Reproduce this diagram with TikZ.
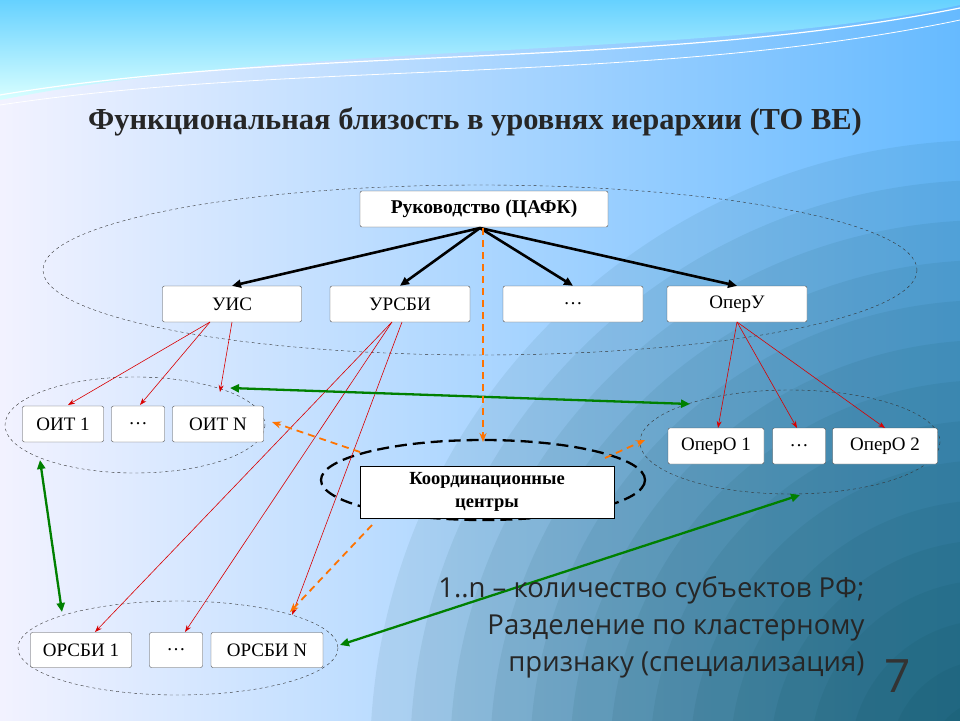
\documentclass[tikz,border=0pt]{standalone}
\usepackage{fontspec}
\setmainfont{Liberation Serif}
\newfontfamily\sansf{Open Sans}
\usetikzlibrary{arrows.meta}
\begin{document}
\begin{tikzpicture}[x=1pt,y=-1pt,
 box/.style={draw=black!70,fill=white,rounded corners=2pt,font=\fontsize{19}{21}\selectfont},
 ell/.style={draw=black!80,dashed,thin},
 blk/.style={-{Triangle[length=9pt,width=8pt]},line width=2.6pt},
 red/.style={-{Stealth[length=7pt,width=5pt]},draw=red!85!black,line width=0.6pt},
 grn/.style={{Triangle[length=9pt,width=8pt]}-{Triangle[length=9pt,width=8pt]},draw=green!50!black,line width=2.3pt},
 org/.style={-{Stealth[length=9pt,width=7pt]},draw=orange!90!red,dashed,line width=1.8pt,dash pattern=on 7pt off 5pt}]
\useasboundingbox (0,0) rectangle (960,720);
\shade[left color=white!95!blue,right color=blue!45!cyan!60!white] (0,0) rectangle (960,720);
\foreach \r in {620,580,...,60} \fill[teal!50!black,opacity=0.07] (990,760) circle (\r);
\shade[top color=cyan!70!blue!60,bottom color=cyan!15] (0,0) -- (960,0) -- (960,5) .. controls (700,60) and (300,40) .. (0,100) -- cycle;
\draw[white,line width=1.2pt] (0,95) .. controls (300,45) and (650,70) .. (960,8);
\draw[white,line width=0.8pt] (0,105) .. controls (300,60) and (650,85) .. (960,20);
\node[font=\bfseries\fontsize{30.5}{32}\selectfont,text=black!85] (title) at (475,122) {Функциональная близость в уровнях иерархии (ТО ВЕ)};
\draw[ell] (480,270) ellipse (437 and 85);
\draw[ell] (135,425) ellipse (130 and 48);
\draw[ell] (790,442) ellipse (150 and 52);
\draw[ell] (178,648) ellipse (160 and 47);
\draw[dashed,line width=2.3pt,dash pattern=on 12pt off 6pt] (483,480) ellipse (162 and 40);
\node[box,font=\bfseries\fontsize{19.5}{21}\selectfont,minimum width=248pt,minimum height=36pt] (top) at (484,209) {Руководство (ЦАФК)};
\node[box,minimum width=139pt,minimum height=36pt] (uis) at (232,304) {УИС};
\node[box,minimum width=140pt,minimum height=36pt] (ursbi) at (400,304) {УРСБИ};
\node[box,minimum width=140pt,minimum height=36pt] (dots1) at (573,304) {…};
\node[box,minimum width=140pt,minimum height=36pt] (operu) at (737,304) {ОперУ};
\node[box,minimum width=81pt,minimum height=36pt] (oit1) at (63,424) {ОИТ 1};
\node[box,minimum width=53pt,minimum height=36pt] (oitd) at (138,424) {…};
\node[box,minimum width=91pt,minimum height=36pt] (oitn) at (218,424) {ОИТ N};
\node[box,minimum width=96pt,minimum height=36pt] (opero1) at (716,446) {ОперО 1};
\node[box,minimum width=53pt,minimum height=36pt] (operod) at (799,446) {…};
\node[box,minimum width=105pt,minimum height=36pt] (opero2) at (885,446) {ОперО 2};
\node[box,minimum width=101pt,minimum height=35pt] (orsbi1) at (81,650) {ОРСБИ 1};
\node[box,minimum width=53pt,minimum height=35pt] (orsbid) at (176,650) {…};
\node[box,minimum width=112pt,minimum height=35pt] (orsbin) at (267,650) {ОРСБИ N};
\node[box,font=\bfseries\fontsize{18.5}{23}\selectfont,minimum width=254pt,minimum height=52pt,align=center,rounded corners=0pt,draw=black,line width=1pt] (coord) at (487,492) {Координационные\\центры};
% black arrows
\coordinate (ts) at (480,228);
\draw[blk] (ts) -- (uis.north);
\draw[blk] (ts) -- (ursbi.north);
\draw[blk] (ts) -- (dots1.north);
\draw[blk] (ts) -- (operu.north);
% red arrows
\coordinate (u1) at (210,322); \coordinate (u2) at (232,322);
\draw[red] (u1) -- (68,405); \draw[red] (u1) -- (140,405); \draw[red] (u2) -- (220,392);
\coordinate (r1) at (392,322); \coordinate (r2) at (402,322);
\draw[red] (r1) -- (95,632); \draw[red] (r1) -- (185,632); \draw[red] (r2) -- (292,615);
\coordinate (o1) at (737,322);
\draw[red] (o1) -- (718,428); \draw[red] (o1) -- (797,428); \draw[red] (o1) -- (885,428);
% green
\draw[grn] (230,388) -- (690,404);
\draw[grn] (40,460) -- (62,612);
\draw[grn] (340,645) -- (800,495);
% orange
\draw[org] (483,228) -- (483,442);
\draw[org] (360,452) -- (272,422);
\draw[org] (605,458) -- (645,440);
\draw[org] (372,525) -- (290,612);
% text
\node[anchor=east,align=right,font=\sansf\fontsize{27.5}{37}\selectfont,text=black!85] (note) at (868,627) {1..n – количество субъектов РФ;\\Разделение по кластерному\\признаку (специализация)};
\node[font=\sansf\fontsize{46}{46}\selectfont,text=black!80] (pg) at (898,676) {7};
\end{tikzpicture}
\end{document}
